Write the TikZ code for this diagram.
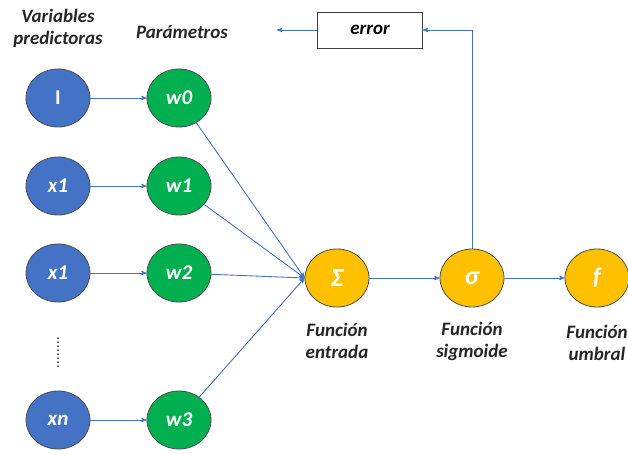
\documentclass[tikz,border=0pt]{standalone}
\usepackage{fontspec}
\setmainfont{Carlito}
\usepackage{tikz}
\usetikzlibrary{arrows,shapes.geometric}

\definecolor{azul}{HTML}{4472C4}
\definecolor{verde}{HTML}{00B050}
\definecolor{naranja}{HTML}{FFC000}

\begin{document}
\begin{tikzpicture}[x=1pt,y=-1pt,>=stealth',font=\fontsize{19}{22}\selectfont\bfseries\itshape]
	\useasboundingbox (0,0) rectangle (628,454);
	\tikzset{neurona/.style={ellipse,draw=black!70,line width=0.8pt,minimum width=64pt,minimum height=58pt,text=white,inner sep=0pt,font=\fontsize{21}{22}\selectfont\bfseries\itshape}}
	\tikzset{entrada/.style={neurona,fill=azul}}
	\tikzset{peso/.style={neurona,fill=verde}}
	\tikzset{funcion/.style={neurona,fill=naranja}}
	\tikzset{etiqueta/.style={align=center,text=black!85}}
	\tikzset{flecha/.style={->,draw=azul,line width=0.9pt}}
	% capa de entrada
	\node[entrada] (I)  at (58,98)  {\upshape I};
	\node[entrada] (x1) at (58,186) {x1};
	\node[entrada] (x2) at (58,273) {x1};
	\node[entrada] (xn) at (58,420) {xn};
	% parametros
	\node[peso] (w0) at (179,98)  {w0};
	\node[peso] (w1) at (179,186) {w1};
	\node[peso] (w2) at (179,273) {w2};
	\node[peso] (w3) at (179,420) {w3};
	% funciones
	\node[funcion,font=\fontsize{26}{26}\selectfont\bfseries\itshape] (suma)  at (337,278) {Σ};
	\node[funcion,font=\fontsize{26}{26}\selectfont\bfseries\itshape] (sigma) at (472,278) {σ};
	\node[funcion,font=\fontsize{24}{24}\selectfont\bfseries\itshape] (umbral) at (597,278) {f};
	% error
	\node[draw=black!75,line width=0.9pt,minimum width=105pt,minimum height=36pt] (error) at (370,30) {error};
	\coordinate (fin) at (277,30);
	% textos
	\node[etiqueta] (tvar)  at (58,28)   {Variables\\predictoras};
	\node[etiqueta] (tpar)  at (182,32)  {Parámetros};
	\node[etiqueta] (tent)  at (337,341) {Función\\entrada};
	\node[etiqueta] (tsig)  at (472,341) {Función\\sigmoide};
	\node[etiqueta] (tumb)  at (597,343) {Función\\umbral};
	\draw[black!80,line width=2pt,line cap=round,dash pattern=on 0pt off 4pt] (58,338) -- (58,368);
	\path
	(I)     edge [flecha] (w0)
	(x1)    edge [flecha] (w1)
	(x2)    edge [flecha] (w2)
	(xn)    edge [flecha] (w3)
	(w0)    edge [flecha] (suma.west)
	(w1)    edge [flecha] (suma.west)
	(w2)    edge [flecha] (suma.west)
	(w3)    edge [flecha] (suma.west)
	(suma)  edge [flecha] (sigma)
	(sigma) edge [flecha] (umbral)
	(error) edge [flecha] (fin);
	\draw[flecha] (sigma) |- (error);
\end{tikzpicture}
\end{document}
